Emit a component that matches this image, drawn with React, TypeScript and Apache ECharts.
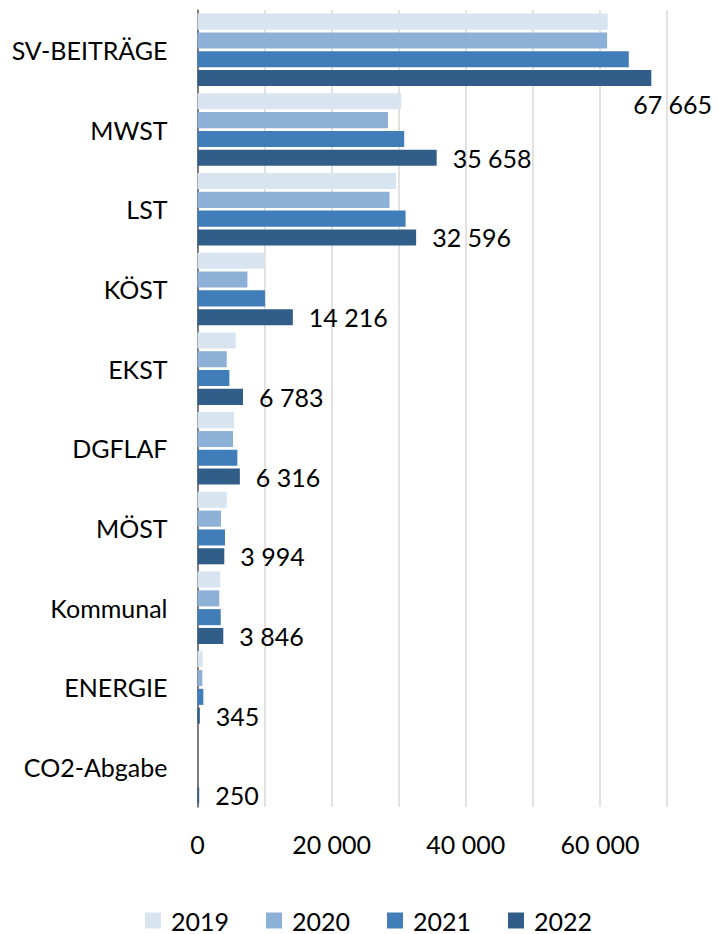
import React, { useEffect, useRef } from "react";
import * as echarts from "echarts";

const categories = ["SV-BEITRÄGE", "MWST", "LST", "KÖST", "EKST", "DGFLAF", "MÖST", "Kommunal", "ENERGIE", "CO2-Abgabe"];
const years = ["2019", "2020", "2021", "2022"];
const v2019 = [61160, 30370, 29630, 9930, 5700, 5450, 4360, 3400, 780, 0];
const v2020 = [61070, 28390, 28630, 7440, 4360, 5300, 3510, 3250, 720, 0];
const v2021 = [64300, 30820, 31020, 10070, 4750, 5940, 4100, 3460, 870, 0];
const v2022 = [67665, 35658, 32596, 14216, 6783, 6316, 3994, 3846, 345, 250];
const colors = ["#d9e4f1", "#8cb0d6", "#417db8", "#305e88"];

const FONT = "Lato";

function fmt(n: number): string {
  return String(Math.round(n)).replace(/\B(?=(\d{3})+(?!\d))/g, " ");
}

export default function App() {
  const ref = useRef<HTMLDivElement>(null);
  useEffect(() => {
    if (!ref.current) return;
    const chart = echarts.init(ref.current, null, { renderer: "svg" });
    const allValues = [v2019, v2020, v2021, v2022];
    const series = allValues.map((vals, i) => ({
      name: years[i],
      type: "bar",
      barCategoryGap: "9%",
      barGap: "17%",
      itemStyle: { color: colors[i] },
      data:
        i === 3
          ? vals.map((v, j) =>
              j === 0
                ? { value: v, label: { position: ["96.0%", 34], align: "left", verticalAlign: "middle" } }
                : v
            )
          : vals,
      label:
        i === 3
          ? {
              show: true,
              position: "right",
              distance: 16,
              fontFamily: FONT,
              fontSize: 25,
              color: "#000",
              formatter: (p: any) => fmt(p.value),
            }
          : { show: false },
    }));
    chart.setOption({
      animation: false,
      textStyle: { fontFamily: FONT },
      legend: {
        data: years,
        left: 140,
        top: 903,
        itemWidth: 16,
        itemHeight: 16,
        itemGap: 37,
        icon: "rect",
        textStyle: { fontFamily: FONT, fontSize: 25, color: "#000", padding: [0, 0, 0, 5] },
      },
      grid: { left: 197.5, right: 51, top: 10, bottom: 127, containLabel: false },
      xAxis: {
        type: "value",
        min: 0,
        max: 70000,
        interval: 10000,
        axisLine: { show: false },
        axisTick: { show: false },
        splitLine: { show: true, lineStyle: { color: "#d9d9d9", width: 1.5 } },
        axisLabel: {
          margin: 24,
          fontFamily: FONT,
          fontSize: 25,
          color: "#000",
          formatter: (v: number) => (v % 20000 === 0 ? fmt(v) : ""),
        },
      },
      yAxis: {
        type: "category",
        data: categories,
        inverse: true,
        axisLine: { show: true, lineStyle: { color: "#595959", width: 1.5 } },
        axisTick: { show: false },
        axisLabel: { margin: 30, fontFamily: FONT, fontSize: 25, color: "#000" },
      },
      series,
    });
    return () => chart.dispose();
  }, []);
  return <div ref={ref} style={{ width: 718, height: 934, position: "absolute", left: 0, top: 0 }} />;
}
